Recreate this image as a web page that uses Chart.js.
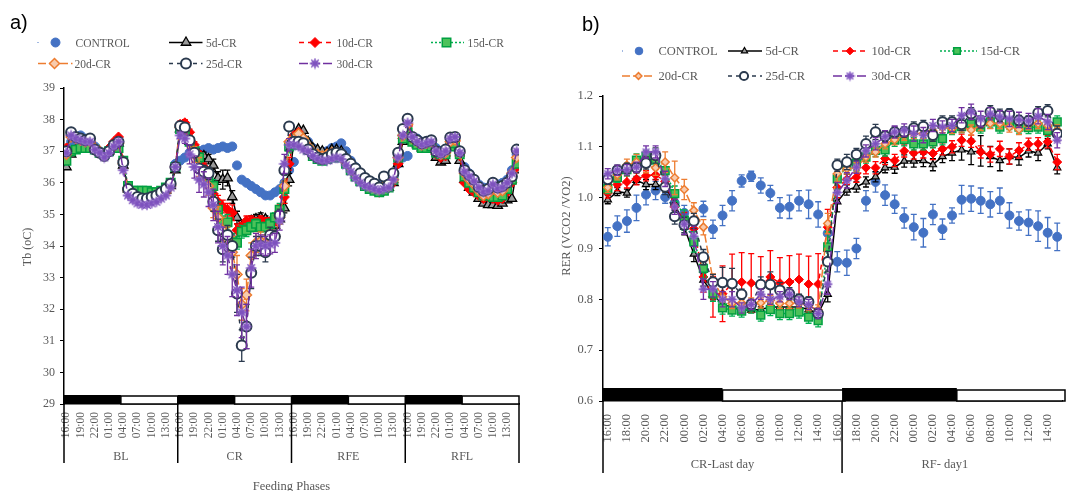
<!DOCTYPE html>
<html><head><meta charset="utf-8">
<script src="https://cdn.jsdelivr.net/npm/chart.js@4.4.1/dist/chart.umd.min.js"></script>
<style>
html,body{margin:0;padding:0;background:#fff;}
#wrap{position:relative;width:1069px;height:491px;overflow:hidden;background:#fff;}
#ca{position:absolute;left:0;top:0;}
#cb{position:absolute;left:540px;top:0;}
.plab{position:absolute;font-family:'Liberation Sans',Arial,sans-serif;font-size:20px;color:#000;line-height:24px;}
</style></head><body>
<div id="wrap">
<canvas id="ca" width="540" height="491"></canvas>
<canvas id="cb" width="529" height="491"></canvas>
<div class="plab" style="left:10px;top:10px;">a)</div>
<div class="plab" style="left:582px;top:12px;">b)</div>
</div>
<script>
// ---------------- DATA ----------------
const seriesNames = ['CONTROL','5d-CR','10d-CR','15d-CR','20d-CR','25d-CR','30d-CR'];

// Chart a: body temperature, hourly, 4 feeding phases x 24 h
const phasesA = ['BL','CR','RFE','RFL'];
const tickLabelsA = ['16:00','19:00','22:00','01:00','04:00','07:00','10:00','13:00',
  '16:00','19:00','22:00','01:00','04:00','07:00','10:00','13:00',
  '16:00','19:00','22:00','01:00','04:00','07:00','10:00','13:00',
  '16:00','19:00','22:00','01:00','04:00','07:00','10:00','13:00'];
const tbControl = [
 36.9,37.3,37.45,37.5,37.4,37.3,37.15,37.0,36.9,37.0,37.1,37.2,36.7,35.9,35.7,35.6,35.55,35.55,35.6,35.65,35.7,35.8,36.0,36.6,
 36.7,36.8,36.95,37.0,37.0,37.05,37.1,37.05,37.1,37.15,37.1,37.15,36.55,36.1,36.0,35.9,35.8,35.7,35.6,35.6,35.7,35.8,36.0,36.4,
 36.66,37.3,37.4,37.3,37.1,37.0,36.95,37.0,37.1,37.15,37.25,37.0,36.7,36.5,36.3,36.15,36.05,36.0,35.95,35.95,36.0,36.2,36.6,36.8,
 36.85,37.3,37.4,37.3,37.25,37.3,37.1,37.0,37.05,37.2,37.35,37.0,36.5,36.3,36.1,35.95,35.85,35.85,35.95,35.95,36.0,36.1,36.4,36.9];
const tb5d = [
 36.5,36.9,37.05,37.2,37.25,37.3,37.1,37.0,36.9,37.0,37.15,37.25,36.55,35.8,35.6,35.5,35.45,35.5,35.55,35.6,35.65,35.75,35.9,36.4,
 37.7,37.6,37.3,37.0,36.9,36.85,36.75,36.55,36.15,36.1,36.15,35.55,34.9,34.6,34.7,34.8,34.85,34.9,34.85,34.75,34.65,34.85,35.2,36.1,
 37.3,37.7,37.65,37.3,37.1,37.05,37.0,36.95,37.05,37.05,37.0,36.8,36.55,36.35,36.2,36.05,35.95,35.85,35.75,35.8,35.85,36.0,36.6,37.3,
 37.7,37.35,37.2,37.1,37.1,37.15,36.8,36.65,36.7,37.15,37.25,36.7,36.1,35.85,35.7,35.5,35.35,35.3,35.3,35.28,35.35,35.45,35.5,36.4];
const tb10d = [
 37.1,37.5,37.45,37.4,37.3,37.3,37.1,37.0,36.9,37.1,37.3,37.45,36.7,35.85,35.65,35.55,35.5,35.5,35.55,35.6,35.65,35.75,35.95,36.5,
 37.85,37.9,37.6,37.2,36.9,36.5,36.2,35.65,35.4,35.25,35.15,35.05,34.5,34.6,34.8,34.8,34.75,34.8,34.75,34.75,34.8,35.1,35.55,36.6,
 37.5,37.6,37.4,37.15,36.95,36.85,36.8,36.8,36.85,36.9,36.85,36.65,36.45,36.25,36.1,35.95,35.85,35.75,35.7,35.75,35.85,36.0,36.6,37.4,
 37.8,37.35,37.25,37.15,37.15,37.2,36.9,36.8,36.85,37.2,37.3,36.85,36.0,35.8,35.7,35.6,35.5,35.55,35.5,35.45,35.5,35.7,36.0,36.5];
const tb15d = [
 36.7,37.0,37.05,37.1,37.1,37.1,37.05,36.95,36.9,37.0,37.1,37.1,36.7,35.9,35.75,35.75,35.75,35.75,35.7,35.7,35.75,35.85,36.0,36.5,
 37.7,37.65,37.3,37.0,36.8,36.35,36.15,35.9,35.15,34.7,34.75,34.15,34.1,34.45,34.5,34.6,34.7,34.6,34.6,34.7,34.9,35.15,35.8,37.15,
 37.2,37.45,37.3,37.05,36.85,36.75,36.7,36.75,36.8,36.85,36.8,36.6,36.4,36.2,36.05,35.9,35.8,35.75,35.7,35.75,35.85,36.1,36.8,37.4,
 37.6,37.3,37.2,37.1,37.1,37.15,36.95,36.9,36.9,37.15,37.25,36.9,36.2,36.0,35.85,35.7,35.6,35.6,35.55,35.55,35.6,35.8,36.1,36.6];
const tb20d = [
 36.9,37.45,37.4,37.35,37.3,37.3,37.1,37.0,36.9,37.0,37.15,37.25,36.6,35.75,35.6,35.5,35.45,35.45,35.5,35.55,35.6,35.7,35.9,36.5,
 37.75,37.7,37.3,36.9,36.5,36.2,35.9,35.2,34.9,34.5,34.2,33.8,33.1,32.15,32.45,33.7,34.1,34.15,34.1,34.25,34.3,34.9,35.9,37.3,
 37.4,37.55,37.4,37.15,36.95,36.9,36.85,36.9,36.95,36.95,36.85,36.65,36.5,36.3,36.15,36.0,35.9,35.85,35.8,35.9,35.9,36.1,36.8,37.5,
 37.85,37.4,37.3,37.2,37.25,37.3,37.0,36.9,36.95,37.3,37.35,36.95,36.3,36.1,35.95,35.75,35.6,35.65,35.8,35.7,35.75,35.95,36.3,36.8];
const tb25d = [
 37.0,37.6,37.45,37.4,37.35,37.4,37.05,36.95,36.85,37.0,37.2,37.3,36.65,35.8,35.65,35.55,35.5,35.5,35.55,35.6,35.7,35.8,35.97,36.5,
 37.8,37.75,37.35,36.95,36.45,36.35,36.3,35.4,34.5,33.9,34.35,34.0,32.5,30.85,31.45,33.15,34.0,34.0,33.8,34.35,34.3,34.97,36.4,37.78,
 37.3,37.3,37.25,37.05,36.9,36.8,36.75,36.8,36.9,36.95,36.9,36.75,36.6,36.45,36.3,36.15,36.05,35.97,35.85,36.2,35.95,36.3,36.95,37.7,
 38.03,37.45,37.35,37.25,37.3,37.35,37.0,36.97,37.05,37.43,37.45,37.0,36.4,36.25,36.1,35.87,35.75,35.8,36.0,35.85,35.9,36.0,36.2,37.05];
const tb30d = [
 36.95,37.5,37.4,37.35,37.3,37.3,37.05,36.95,36.8,36.95,37.15,37.3,36.4,35.6,35.45,35.35,35.3,35.3,35.35,35.4,35.5,35.6,35.85,36.5,
 37.5,37.4,36.9,36.5,36.1,35.95,35.7,35.3,34.6,34.0,33.7,33.1,32.6,31.9,31.45,33.3,34.0,34.05,34.0,34.05,34.1,34.8,36.6,37.2,
 37.2,37.15,37.05,37.0,36.85,36.75,36.7,36.7,36.75,36.8,36.75,36.55,36.35,36.15,36.0,35.9,35.85,35.8,35.75,35.8,35.85,36.1,36.8,37.5,
 37.9,37.45,37.3,37.2,37.25,37.3,37.0,36.9,37.0,37.4,37.45,36.95,36.35,36.2,36.05,35.85,35.7,35.75,35.95,35.8,35.85,36.0,36.3,37.0];
// standard errors during the CR phase (hours 24..47)
const tbErr5dCR  = [0.1,0.1,0.1,0.1,0.1,0.12,0.15,0.2,0.2,0.3,0.25,0.2,0.2,0.2,0.15,0.15,0.15,0.15,0.1,0.1,0.1,0.15,0.15,0.2];
const tbErr10dCR = [0.1,0.1,0.1,0.1,0.1,0.12,0.15,0.2,0.2,0.2,0.2,0.25,0.2,0.15,0.15,0.15,0.15,0.15,0.15,0.15,0.15,0.2,0.2,0.2];
const tbErr15dCR = [0.1,0.1,0.1,0.1,0.15,0.15,0.15,0.2,0.25,0.25,0.25,0.25,0.2,0.2,0.2,0.15,0.15,0.15,0.15,0.15,0.15,0.2,0.2,0.2];
const tbErr20dCR = [0.1,0.1,0.2,0.25,0.3,0.3,0.3,0.3,0.35,0.4,0.4,0.5,0.6,0.5,0.5,0.4,0.3,0.3,0.25,0.25,0.2,0.2,0.15,0.1];
const tbErr25dCR = [0.1,0.1,0.1,0.12,0.15,0.2,0.2,0.3,0.35,0.4,0.3,0.35,0.6,0.5,0.7,0.5,0.3,0.3,0.3,0.25,0.2,0.2,0.15,0.1];
const tbErr30dCR = [0.1,0.15,0.3,0.35,0.4,0.4,0.45,0.5,0.5,0.6,0.6,0.7,0.8,0.8,0.7,0.6,0.4,0.3,0.3,0.3,0.3,0.3,0.3,0.2];

// Chart b: RER, hourly, CR last day + RF day 1
const groupsB = [{name:'CR-Last day', from:-0.5, to:24.5},{name:'RF- day1', from:24.5, to:46}];
const tickLabelsB = ['16:00','18:00','20:00','22:00','00:00','02:00','04:00','06:00','08:00','10:00','12:00','14:00',
  '16:00','18:00','20:00','22:00','00:00','02:00','04:00','06:00','08:00','10:00','12:00','14:00'];
const rerControl = [
 0.923,0.944,0.954,0.980,1.006,1.014,1.001,0.990,0.970,0.955,0.978,0.938,
 0.965,0.994,1.033,1.042,1.024,1.009,0.980,0.982,0.994,0.987,0.967,0.930,
 0.874,0.872,0.900,0.994,1.031,1.005,0.987,0.960,0.942,0.931,0.967,0.938,
 0.965,0.996,0.998,0.994,0.987,0.994,0.965,0.954,0.951,0.944,0.931,0.923];
const rer5d = [
 0.996,1.012,1.009,1.034,1.026,1.026,1.021,0.990,0.942,0.889,0.838,0.809,
 0.790,0.785,0.779,0.779,0.780,0.785,0.785,0.785,0.785,0.780,0.772,0.810,
 0.992,1.015,1.021,1.031,1.041,1.059,1.060,1.072,1.072,1.073,1.065,1.081,
 1.088,1.094,1.090,1.092,1.081,1.073,1.081,1.079,1.092,1.088,1.106,1.059];
const rer10d = [
 1.009,1.026,1.031,1.037,1.043,1.045,1.032,0.982,0.956,0.939,0.844,0.805,
 0.811,0.831,0.834,0.832,0.826,0.844,0.832,0.834,0.839,0.830,0.830,0.942,
 1.020,1.036,1.040,1.059,1.059,1.077,1.073,1.092,1.088,1.090,1.087,1.096,
 1.100,1.113,1.111,1.090,1.085,1.096,1.081,1.093,1.105,1.106,1.110,1.070];
const rer15d = [
 1.018,1.040,1.055,1.074,1.081,1.074,1.053,1.008,0.956,0.913,0.861,0.811,
 0.783,0.779,0.777,0.785,0.769,0.780,0.772,0.772,0.775,0.765,0.758,0.903,
 1.037,1.062,1.068,1.080,1.093,1.094,1.113,1.114,1.106,1.106,1.110,1.116,
 1.136,1.140,1.146,1.139,1.149,1.139,1.146,1.139,1.138,1.139,1.132,1.149];
const rer20d = [
 1.020,1.045,1.064,1.070,1.064,1.059,1.070,1.039,1.016,0.975,0.942,0.838,
 0.805,0.792,0.793,0.793,0.793,0.798,0.792,0.792,0.793,0.788,0.779,0.949,
 1.047,1.057,1.059,1.080,1.090,1.106,1.114,1.123,1.126,1.126,1.131,1.138,
 1.136,1.139,1.133,1.142,1.146,1.146,1.139,1.134,1.144,1.146,1.142,1.133];
const rer25d = [
 1.036,1.054,1.058,1.059,1.068,1.083,1.021,0.963,0.946,0.954,0.883,0.834,
 0.833,0.831,0.810,0.790,0.829,0.829,0.818,0.811,0.800,0.795,0.772,0.874,
 1.064,1.070,1.085,1.106,1.129,1.121,1.129,1.129,1.137,1.140,1.123,1.149,
 1.149,1.144,1.165,1.149,1.169,1.162,1.165,1.152,1.151,1.167,1.171,1.126];
const rer30d = [
 1.047,1.054,1.055,1.060,1.090,1.090,1.037,0.982,0.948,0.924,0.820,0.820,
 0.800,0.800,0.783,0.790,0.810,0.800,0.805,0.810,0.795,0.790,0.772,0.830,
 1.010,1.034,1.060,1.092,1.106,1.120,1.129,1.133,1.126,1.123,1.142,1.139,
 1.142,1.162,1.169,1.155,1.165,1.159,1.155,1.153,1.151,1.160,1.149,1.113];
const rerErrControl = [
 0.018,0.02,0.022,0.025,0.02,0.018,0.012,0.015,0.015,0.015,0.015,0.018,
 0.02,0.02,0.012,0.01,0.015,0.015,0.02,0.023,0.02,0.028,0.025,0.02,
 0.02,0.025,0.02,0.02,0.02,0.02,0.018,0.02,0.025,0.028,0.02,0.02,
 0.015,0.028,0.025,0.025,0.025,0.025,0.025,0.018,0.025,0.03,0.03,0.027];
const rerErr5d = [
 0.008,0.008,0.008,0.008,0.01,0.01,0.01,0.015,0.015,0.015,0.012,0.01,
 0.008,0.008,0.005,0.005,0.005,0.005,0.005,0.005,0.005,0.005,0.008,0.015,
 0.02,0.01,0.01,0.01,0.01,0.01,0.012,0.012,0.012,0.012,0.012,0.012,
 0.015,0.02,0.025,0.03,0.02,0.02,0.015,0.015,0.012,0.015,0.01,0.012];
const rerErr10d = [
 0.01,0.012,0.012,0.012,0.01,0.01,0.012,0.015,0.015,0.02,0.03,0.04,
 0.055,0.058,0.058,0.058,0.058,0.052,0.05,0.052,0.05,0.055,0.06,0.035,
 0.02,0.01,0.01,0.012,0.012,0.012,0.012,0.012,0.012,0.012,0.012,0.012,
 0.012,0.012,0.012,0.012,0.015,0.015,0.015,0.015,0.012,0.012,0.012,0.015];
const rerErr15d = [
 0.01,0.01,0.012,0.012,0.012,0.012,0.015,0.015,0.02,0.02,0.02,0.015,
 0.012,0.012,0.012,0.012,0.012,0.012,0.012,0.012,0.012,0.012,0.012,0.03,
 0.02,0.015,0.015,0.012,0.012,0.012,0.012,0.012,0.012,0.012,0.012,0.012,
 0.012,0.012,0.012,0.012,0.012,0.012,0.012,0.012,0.012,0.012,0.012,0.012];
const rerErr20d = [
 0.01,0.01,0.012,0.015,0.015,0.015,0.02,0.033,0.02,0.015,0.015,0.012,
 0.01,0.01,0.01,0.01,0.01,0.01,0.01,0.01,0.01,0.01,0.01,0.02,
 0.015,0.01,0.01,0.01,0.01,0.01,0.01,0.01,0.01,0.01,0.01,0.01,
 0.01,0.01,0.01,0.01,0.01,0.01,0.01,0.01,0.01,0.01,0.01,0.01];
const rerErr25d = [
 0.01,0.01,0.01,0.01,0.012,0.015,0.015,0.015,0.015,0.015,0.015,0.015,
 0.03,0.03,0.01,0.01,0.015,0.025,0.015,0.012,0.01,0.01,0.01,0.02,
 0.012,0.015,0.012,0.015,0.015,0.01,0.01,0.01,0.012,0.012,0.012,0.012,
 0.012,0.012,0.012,0.012,0.012,0.012,0.01,0.01,0.01,0.012,0.012,0.015];
const rerErr30d = [
 0.01,0.01,0.01,0.01,0.012,0.012,0.015,0.015,0.02,0.02,0.02,0.015,
 0.015,0.015,0.01,0.01,0.01,0.01,0.01,0.01,0.01,0.01,0.01,0.02,
 0.02,0.015,0.012,0.012,0.012,0.012,0.012,0.012,0.015,0.015,0.012,0.012,
 0.012,0.015,0.015,0.015,0.012,0.012,0.015,0.015,0.015,0.015,0.015,0.015];

// ---------------- STYLE ----------------
Chart.defaults.font.family = "'Liberation Serif','Times New Roman',serif";
Chart.defaults.color = '#595959';
const TXT = '#595959';

function makeStar(size, fill, stroke){
  const c = document.createElement('canvas'); c.width = size; c.height = size;
  const g = c.getContext('2d'); const r = size/2;
  g.fillStyle = fill; g.beginPath(); g.arc(r, r, r*0.6, 0, Math.PI*2); g.fill();
  g.strokeStyle = stroke; g.lineWidth = 1.3; g.beginPath();
  for (let k = 0; k < 4; k++){ const a = k*Math.PI/4; const dx = Math.cos(a)*(r-0.7), dy = Math.sin(a)*(r-0.7);
    g.moveTo(r-dx, r-dy); g.lineTo(r+dx, r+dy); }
  g.stroke();
  return c;
}
const starA = makeStar(12, '#A98BD6', '#7E52BE');
const starB = makeStar(11, '#A98BD6', '#7E52BE');

const styles = [
  {line:'#4472C4', fill:'#4472C4', edge:'#4472C4', pt:'circle',  dash:[],     show:false},
  {line:'#000000', fill:'#9A9A9A', edge:'#000000', pt:'triangle',dash:[],     show:true},
  {line:'#FF0000', fill:'#FF0000', edge:'#FF0000', pt:'rectRot', dash:[5,4],  show:true},
  {line:'#00B050', fill:'#4CC25A', edge:'#00A040', pt:'rect',    dash:[2,2],  show:true},
  {line:'#ED7D31', fill:'#F8CBAD', edge:'#ED7D31', pt:'rectRot', dash:[8,3],  show:true},
  {line:'#2B3A4E', fill:'#FFFFFF', edge:'#2B3A4E', pt:'circle',  dash:[4,4],  show:true},
  {line:'#7030A0', fill:'#A98BD6', edge:'#7E52BE', pt:'star',    dash:[9,3],  show:true}
];

function buildSets(series, errs, radii, edgeW, star){
  return series.map((arr, s) => ({
    label: seriesNames[s],
    data: arr.map((v, i) => ({x: i, y: v})),
    errors: errs[s],
    errColor: styles[s].line,
    showLine: styles[s].show,
    borderColor: styles[s].line,
    backgroundColor: styles[s].fill,
    borderWidth: 1.5,
    borderDash: styles[s].dash,
    pointStyle: styles[s].pt === 'star' ? star : styles[s].pt,
    pointRadius: radii[s],
    pointBackgroundColor: styles[s].fill,
    pointBorderColor: styles[s].edge,
    pointBorderWidth: edgeW[s],
    order: series.length - 1 - s
  }));
}
function crSpan(arr, start, total){
  const out = new Array(total).fill(null);
  arr.forEach((e, i) => { out[start + i] = e; });
  return out;
}

// error bar plugin (draws under each dataset's markers)
const errorBars = {
  id: 'errorBars',
  beforeDatasetDraw(chart, args){
    const ds = chart.data.datasets[args.index];
    if (!ds.errors) return;
    const ctx = chart.ctx, ys = chart.scales.y;
    ctx.save();
    ctx.strokeStyle = ds.errColor; ctx.lineWidth = 1.3; ctx.setLineDash([]);
    args.meta.data.forEach((pt, i) => {
      const e = ds.errors[i]; if (e == null) return;
      const v = ds.data[i].y;
      const y1 = ys.getPixelForValue(v + e), y2 = ys.getPixelForValue(v - e);
      ctx.beginPath();
      ctx.moveTo(pt.x, y1); ctx.lineTo(pt.x, y2);
      ctx.moveTo(pt.x - 3, y1); ctx.lineTo(pt.x + 3, y1);
      ctx.moveTo(pt.x - 3, y2); ctx.lineTo(pt.x + 3, y2);
      ctx.stroke();
    });
    ctx.restore();
  }
};

function drawLegend(chart, items, fontPx, scale){
  const ctx = chart.ctx;
  ctx.save();
  items.forEach(it => {
    const ds = chart.data.datasets[it.ds];
    if (it.x1 != null){
      ctx.strokeStyle = ds.borderColor; ctx.lineWidth = it.ds === 0 ? 1 : 1.5;
      ctx.setLineDash(it.ds === 0 ? [] : ds.borderDash);
      ctx.beginPath(); ctx.moveTo(it.x1, it.y); ctx.lineTo(it.x2, it.y); ctx.stroke();
    }
    ctx.setLineDash([]);
    ctx.fillStyle = ds.pointBackgroundColor; ctx.strokeStyle = ds.pointBorderColor; ctx.lineWidth = ds.pointBorderWidth;
    Chart.helpers.drawPoint(ctx, {pointStyle: ds.pointStyle, rotation: 0, radius: ds.pointRadius * scale, borderWidth: ds.pointBorderWidth}, it.mx, it.y);
    ctx.fillStyle = TXT; ctx.font = fontPx + "px 'Liberation Serif'"; ctx.textBaseline = 'middle'; ctx.textAlign = 'left';
    ctx.fillText(ds.label, it.tx, it.y + 1);
  });
  ctx.restore();
}
function vText(ctx, text, x, y, fontPx){
  ctx.save(); ctx.translate(x, y); ctx.rotate(-Math.PI/2);
  ctx.fillStyle = TXT; ctx.font = fontPx + "px 'Liberation Serif'"; ctx.textAlign = 'center'; ctx.textBaseline = 'middle';
  ctx.fillText(text, 0, 0); ctx.restore();
}

// ---------------- CHART A ----------------
const hoursPerPhase = 24, darkHours = 12, tickStepA = 3, crStart = 24;
const totalA = tbControl.length;
const errsA = [null, crSpan(tbErr5dCR, crStart, totalA), crSpan(tbErr10dCR, crStart, totalA), crSpan(tbErr15dCR, crStart, totalA),
  crSpan(tbErr20dCR, crStart, totalA), crSpan(tbErr25dCR, crStart, totalA), crSpan(tbErr30dCR, crStart, totalA)];
const setsA = buildSets([tbControl, tb5d, tb10d, tb15d, tb20d, tb25d, tb30d], errsA,
  [4.5, 5.5, 5, 6, 5, 5, 6], [1, 1.3, 1, 1.5, 1.5, 2, 1], starA);

const decoA = {
  id: 'decoA',
  afterDraw(chart){
    const {ctx, chartArea: ca} = chart; const x = chart.scales.x;
    ctx.save();
    phasesA.forEach((name, p) => {
      const s = x.getPixelForValue(p*hoursPerPhase - 0.5);
      const m = x.getPixelForValue(p*hoursPerPhase - 0.5 + darkHours);
      const e = x.getPixelForValue(p*hoursPerPhase - 0.5 + hoursPerPhase);
      ctx.fillStyle = '#fff'; ctx.strokeStyle = '#000'; ctx.lineWidth = 1.5;
      ctx.fillRect(m, ca.bottom - 8, e - m, 8); ctx.strokeRect(m, ca.bottom - 8, e - m, 8);
      ctx.fillStyle = '#000'; ctx.fillRect(s, ca.bottom - 9, m - s, 9);
      ctx.fillStyle = TXT; ctx.font = "12px 'Liberation Serif'"; ctx.textAlign = 'center'; ctx.textBaseline = 'middle';
      ctx.fillText(name, (s + e)/2, 457);
    });
    ctx.strokeStyle = '#000'; ctx.lineWidth = 1.5;
    for (let p = 0; p <= phasesA.length; p++){
      const xp = x.getPixelForValue(p*hoursPerPhase - 0.5);
      ctx.beginPath(); ctx.moveTo(xp, ca.bottom); ctx.lineTo(xp, ca.bottom + 59); ctx.stroke();
    }
    ctx.fillStyle = TXT; ctx.font = "12.5px 'Liberation Serif'"; ctx.textAlign = 'center'; ctx.textBaseline = 'middle';
    ctx.fillText('Feeding Phases', (ca.left + ca.right)/2, 487);
    ctx.restore();
    vText(ctx, 'Tb (oC)', 28, 247, 12);
    drawLegend(chart, [
      {ds:0, x1:37.5, x2:38.5, mx:55.5, tx:75.5, y:42.5},
      {ds:1, x1:169, x2:202.5, mx:186, tx:206, y:42.5},
      {ds:2, x1:299, x2:333, mx:315, tx:336.5, y:42.5},
      {ds:3, x1:431, x2:464, mx:446.5, tx:467.5, y:42.5},
      {ds:4, x1:38, x2:72.5, mx:54.5, tx:74.5, y:63.5},
      {ds:5, x1:169, x2:202.5, mx:186, tx:206, y:63.5},
      {ds:6, x1:299, x2:333, mx:315, tx:336.5, y:63.5}
    ], 11.5, 1);
  }
};

new Chart(document.getElementById('ca'), {
  type: 'line',
  data: {datasets: setsA},
  options: {
    responsive: false, animation: false, devicePixelRatio: 1,
    layout: {padding: {left: 0, right: 21, top: 88, bottom: 0}},
    plugins: {legend: {display: false}, tooltip: {enabled: false}},
    scales: {
      x: {type: 'linear', min: -0.5, max: totalA - 0.5,
        grid: {display: false, drawTicks: false},
        border: {display: true, color: '#000', width: 1.5},
        afterBuildTicks: s => { s.ticks = tickLabelsA.map((_, j) => ({value: j*tickStepA})); },
        afterFit: s => { s.height = 87; s.paddingLeft = 0; s.paddingRight = 0; },
        ticks: {autoSkip: false, maxRotation: 90, minRotation: 90, padding: 8, color: TXT,
          font: {size: 11.5}, callback: v => tickLabelsA[Math.round(v / tickStepA)]}
      },
      y: {min: 29, max: 39,
        grid: {display: true, drawOnChartArea: false, drawTicks: true, tickLength: 4, color: '#000'},
        border: {display: true, color: '#000', width: 1.5},
        afterFit: s => { s.width = 64; },
        ticks: {stepSize: 1, padding: 5, color: TXT, font: {size: 12}}
      }
    }
  },
  plugins: [errorBars, decoA]
});

// ---------------- CHART B ----------------
const tickStepB = 2;
const totalB = rerControl.length;
const darkB = [[-0.5, 12], [24.5, 36.5]];
const lightB = [[12, 24.5], [36.5, totalB - 0.5]];
const setsB = buildSets([rerControl, rer5d, rer10d, rer15d, rer20d, rer25d, rer30d],
  [rerErrControl, rerErr5d, rerErr10d, rerErr15d, rerErr20d, rerErr25d, rerErr30d],
  [4.5, 4.2, 4.5, 5.5, 4, 4.8, 5.5], [1, 1.2, 1, 1.5, 1.5, 2, 1], starB);

const decoB = {
  id: 'decoB',
  afterDraw(chart){
    const {ctx, chartArea: ca} = chart; const x = chart.scales.x;
    ctx.save();
    ctx.strokeStyle = '#000'; ctx.lineWidth = 1.5;
    lightB.forEach(([a, b]) => {
      const xa = x.getPixelForValue(a), xb = x.getPixelForValue(b);
      ctx.fillStyle = '#fff'; ctx.fillRect(xa, ca.bottom - 11, xb - xa, 11); ctx.strokeRect(xa, ca.bottom - 11, xb - xa + 3, 11);
    });
    darkB.forEach(([a, b]) => {
      const xa = x.getPixelForValue(a), xb = x.getPixelForValue(b);
      ctx.fillStyle = '#000'; ctx.fillRect(xa, ca.bottom - 13, xb - xa, 13);
    });
    groupsB.forEach(g => {
      const xa = x.getPixelForValue(g.from), xb = x.getPixelForValue(g.to);
      ctx.beginPath(); ctx.moveTo(xa, ca.bottom); ctx.lineTo(xa, ca.bottom + 72); ctx.stroke();
      ctx.fillStyle = TXT; ctx.font = "12.5px 'Liberation Serif'"; ctx.textAlign = 'center'; ctx.textBaseline = 'middle';
      ctx.fillText(g.name, (xa + xb)/2, 465);
    });
    ctx.restore();
    vText(ctx, 'RER (VCO2 /VO2)', 27, 226, 12.5);
    drawLegend(chart, [
      {ds:0, x1:82, x2:83, mx:99, tx:118.5, y:51},
      {ds:1, x1:188, x2:222, mx:204.5, tx:225.5, y:51},
      {ds:2, x1:293, x2:327, mx:310, tx:331.5, y:51},
      {ds:3, x1:400, x2:437, mx:417, tx:440.5, y:51},
      {ds:4, x1:82, x2:115, mx:98.5, tx:118.5, y:76},
      {ds:5, x1:188, x2:222, mx:204, tx:225.5, y:76},
      {ds:6, x1:293, x2:327, mx:310, tx:331.5, y:76}
    ], 12.5, 0.85);
  }
};

new Chart(document.getElementById('cb'), {
  type: 'line',
  data: {datasets: setsB},
  options: {
    responsive: false, animation: false, devicePixelRatio: 1,
    layout: {padding: {left: 0, right: 0, top: 96, bottom: 0}},
    plugins: {legend: {display: false}, tooltip: {enabled: false}},
    scales: {
      x: {type: 'linear', min: -0.5, max: totalB - 0.5,
        grid: {display: false, drawTicks: false},
        border: {display: true, color: '#000', width: 1.5},
        afterBuildTicks: s => { s.ticks = tickLabelsB.map((_, j) => ({value: j*tickStepB})); },
        afterFit: s => { s.height = 90; s.paddingLeft = 0; s.paddingRight = 0; },
        ticks: {autoSkip: false, maxRotation: 90, minRotation: 90, padding: 13, color: TXT,
          font: {size: 12.5}, callback: v => tickLabelsB[Math.round(v / tickStepB)]}
      },
      y: {min: 0.6, max: 1.2,
        grid: {display: true, drawOnChartArea: false, drawTicks: true, tickLength: 4, color: '#000'},
        border: {display: true, color: '#000', width: 1.5},
        afterFit: s => { s.width = 63; },
        ticks: {stepSize: 0.1, padding: 6, color: TXT, font: {size: 12.5}, callback: v => v.toFixed(1)}
      }
    }
  },
  plugins: [errorBars, decoB]
});
</script>
</body></html>
